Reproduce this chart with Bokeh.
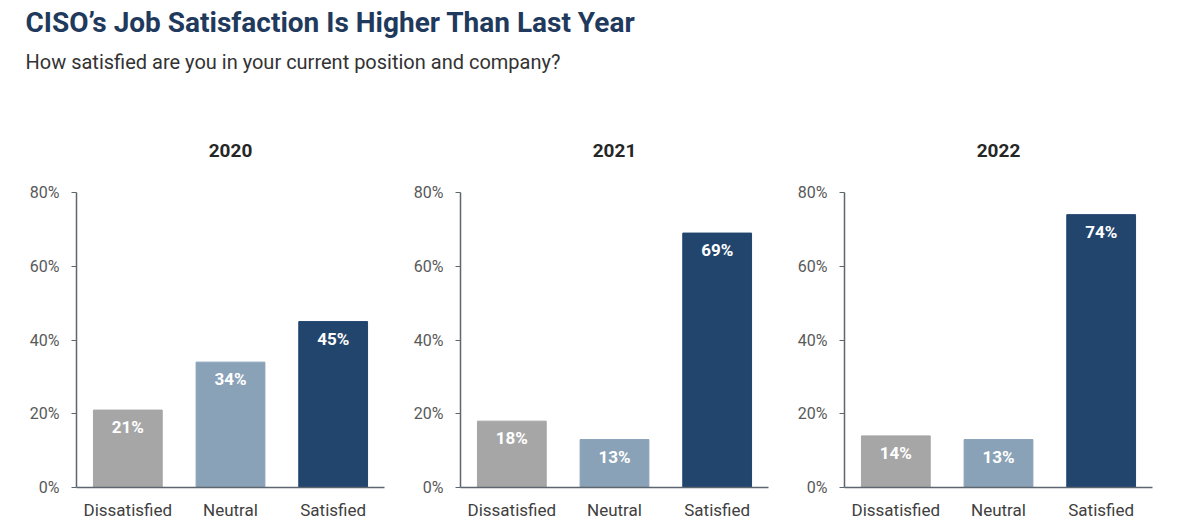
from bokeh.plotting import figure
from bokeh.models import (ColumnDataSource, FactorRange, Range1d, FixedTicker,
                          PrintfTickFormatter, LabelSet, Label)
from bokeh.layouts import column, row
from bokeh.core.properties import value
from bokeh.embed import file_html
from bokeh.resources import INLINE

title_text = "CISO’s Job Satisfaction Is Higher Than Last Year"
subtitle_text = "How satisfied are you in your current position and company?"

years = ["2020", "2021", "2022"]
categories = ["Dissatisfied", "Neutral", "Satisfied"]
values_2020 = [21, 34, 45]
values_2021 = [18, 13, 69]
values_2022 = [14, 13, 74]
colors = ["#a6a6a6", "#8aa2b8", "#22456e"]
y_ticks = [0, 20, 40, 60, 80]

series = [values_2020, values_2021, values_2022]

FONT = "Roboto"
AXIS_COLOR = "#5b6670"

# Header
header = figure(width=1173, height=100, x_range=Range1d(0, 1173), y_range=Range1d(0, 100),
                x_axis_type=None, y_axis_type=None, toolbar_location=None,
                output_backend="svg", min_border=0, outline_line_color=None)
header.add_layout(Label(x=25, y=78, text=title_text, text_font=FONT, text_font_style="bold",
                        text_font_size="28px", text_color="#1f3a5c", text_baseline="middle"))
header.add_layout(Label(x=25, y=39, text=subtitle_text, text_font=FONT,
                        text_font_size="20px", text_color="#333333", text_baseline="middle"))

panels = []
for yr, vals in zip(years, series):
    src = ColumnDataSource(dict(cat=categories, val=vals, color=colors,
                                lbl=[f"{v}%" for v in vals]))
    p = figure(width=384, height=423, x_range=FactorRange(*categories, range_padding=0),
               y_range=Range1d(0, 80), toolbar_location=None, output_backend="svg",
               min_border_left=68, min_border_right=8, min_border_top=92, min_border_bottom=36,
               outline_line_color=None, title=yr)
    p.title.text_font = FONT
    p.title.text_font_size = "19px"
    p.title.text_font_style = "bold"
    p.title.text_color = "#262626"
    p.title.align = "center"
    p.title.standoff = 72
    p.vbar(x="cat", top="val", width=0.67, color="color", source=src)
    p.add_layout(LabelSet(x="cat", y="val", text="lbl", source=src, text_align="center",
                          text_baseline="middle", y_offset=-17, text_color="white",
                          text_font=value(FONT), text_font_style="bold",
                          text_font_size="17px"))
    p.xgrid.visible = False
    p.ygrid.visible = False
    p.yaxis.ticker = FixedTicker(ticks=y_ticks)
    p.yaxis.formatter = PrintfTickFormatter(format="%d%%")
    p.yaxis.axis_line_color = AXIS_COLOR
    p.yaxis.axis_line_width = 1.5
    p.yaxis.major_tick_line_color = AXIS_COLOR
    p.yaxis.major_tick_out = 5
    p.yaxis.major_tick_in = 0
    p.yaxis.minor_tick_line_color = None
    p.yaxis.major_label_text_font = FONT
    p.yaxis.major_label_text_font_size = "16px"
    p.yaxis.major_label_text_color = "#595959"
    p.yaxis.major_label_standoff = 12
    p.xaxis.axis_line_color = AXIS_COLOR
    p.xaxis.axis_line_width = 1.5
    p.xaxis.major_tick_line_color = None
    p.xaxis.minor_tick_line_color = None
    p.xaxis.major_label_text_font = FONT
    p.xaxis.major_label_text_font_size = "17px"
    p.xaxis.major_label_text_color = "#404040"
    p.xaxis.major_label_standoff = 6
    panels.append(p)

layout = column(header, row(*panels, margin=(0, 0, 0, 8)))
open("out.html", "w").write(file_html(layout, INLINE))
